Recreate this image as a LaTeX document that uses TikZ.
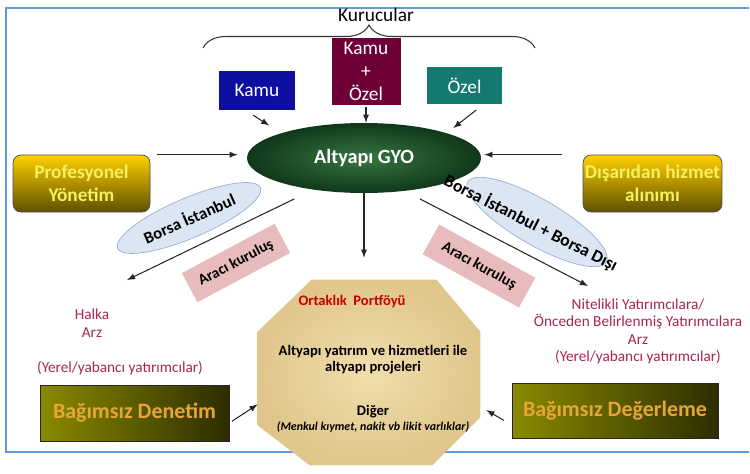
\documentclass[tikz,border=0pt]{standalone}
\usepackage{fontspec}
\setmainfont{Carlito}
\usetikzlibrary{shapes.geometric,decorations.pathreplacing}

\definecolor{frameBlue}{RGB}{95,155,215}
\definecolor{kamuBlue}{RGB}{14,14,160}
\definecolor{mixedMaroon}{RGB}{110,0,55}
\definecolor{ozelTeal}{RGB}{20,122,112}
\definecolor{gyoLight}{RGB}{55,118,65}
\definecolor{gyoDark}{RGB}{16,56,26}
\definecolor{goldTop}{RGB}{255,208,0}
\definecolor{goldBottom}{RGB}{95,80,0}
\definecolor{mgmtText}{RGB}{248,240,95}
\definecolor{bourseBlue}{RGB}{220,230,243}
\definecolor{bourseEdge}{RGB}{150,175,210}
\definecolor{agentPink}{RGB}{232,188,188}
\definecolor{offerRed}{RGB}{170,35,85}
\definecolor{portTan}{RGB}{240,222,172}
\definecolor{portTanDark}{RGB}{224,198,140}
\definecolor{portRed}{RGB}{200,0,0}
\definecolor{oliveLeft}{RGB}{138,138,0}
\definecolor{oliveRight}{RGB}{45,45,0}
\definecolor{auditText}{RGB}{230,165,55}
\colorlet{arrowColor}{black!85}

\tikzstyle{frameLine}=[draw=frameBlue,line width=1.1pt]
\tikzstyle{braceLine}=[decorate,decoration={brace,amplitude=0.46cm},draw=black!80,line width=0.6pt]
\tikzstyle{founderTitle}=[font=\fontsize{11}{13}\selectfont,inner sep=0pt]
\tikzstyle{founderBox}=[text=white,font=\fontsize{11}{13}\selectfont,inner sep=0pt,align=center]
\tikzstyle{gyoOval}=[ellipse,shading=radial,inner color=gyoLight,outer color=gyoDark,text=white,font=\bfseries\fontsize{11.5}{14}\selectfont,inner sep=0pt]
\tikzstyle{mgmtBox}=[rounded corners=0.16cm,draw=black!70,top color=goldTop,bottom color=goldBottom,text=mgmtText,font=\bfseries\fontsize{11}{13}\selectfont,inner sep=0pt,align=center]
\tikzstyle{bourseOval}=[ellipse,draw=bourseEdge,fill=bourseBlue,line width=0.4pt,inner sep=0pt]
\tikzstyle{bourseLabel}=[font=\bfseries\fontsize{9.5}{11}\selectfont,inner sep=0pt]
\tikzstyle{agentBox}=[fill=agentPink,font=\bfseries\fontsize{8.7}{10}\selectfont,inner sep=0pt]
\tikzstyle{offerText}=[text=offerRed,font=\fontsize{8.7}{10}\selectfont,align=center,inner sep=0pt]
\tikzstyle{portfolioShape}=[shading=radial,inner color=portTan,outer color=portTanDark]
\tikzstyle{portTitle}=[text=portRed,font=\bfseries\fontsize{8.3}{10}\selectfont,inner sep=0pt]
\tikzstyle{portText}=[font=\bfseries\fontsize{8.3}{9.2}\selectfont,align=center,inner sep=0pt]
\tikzstyle{portNote}=[font=\bfseries\itshape\fontsize{6.8}{8}\selectfont,inner sep=0pt]
\tikzstyle{auditBox}=[draw=black!85,left color=oliveLeft,right color=oliveRight,text=auditText,font=\bfseries\fontsize{12.5}{15}\selectfont,inner sep=0pt]
\tikzstyle{flowArrow}=[->,>=latex,draw=arrowColor,line width=0.6pt]

\begin{document}
\begin{tikzpicture}[x=0.02cm,y=-0.02cm]
\newcommand{\Pix}{0.02cm}
\useasboundingbox (0,0) rectangle (750,473);
\draw[frameLine] (749,8) -- (6,8) -- (6,452) -- (749,452);

% kurucular
\node[founderTitle] (kurucular) at (376,15) {Kurucular};
\draw[braceLine] (203,48) -- (535,48);
\node[founderBox,fill=kamuBlue,minimum width=76*\Pix,minimum height=39*\Pix] (kamu) at (257,90.5) {Kamu};
\node[founderBox,fill=mixedMaroon,minimum width=69*\Pix,minimum height=67*\Pix] (kamuOzel) at (366,71.5) {Kamu\\+\\Özel};
\node[founderBox,fill=ozelTeal,minimum width=75*\Pix,minimum height=37*\Pix] (ozel) at (464.5,85.5) {Özel};

\node[gyoOval,minimum width=234*\Pix,minimum height=70*\Pix] (gyo) at (364,158) {Altyapı GYO};

\node[mgmtBox,minimum width=137*\Pix,minimum height=57*\Pix] (profYonetim) at (81.5,183.5) {Profesyonel\\Yönetim};
\node[mgmtBox,minimum width=139*\Pix,minimum height=57*\Pix] (disHizmet) at (652.5,183.5) {Dışarıdan hizmet\\alınımı};

% borsa / araci
\node[bourseOval,rotate=23,minimum width=155*\Pix,minimum height=40*\Pix] (borsaIst) at (189,218) {};
\node[bourseLabel,rotate=24] (borsaIstText) at (borsaIst) {Borsa İstanbul};
\node[agentBox,rotate=28,minimum width=105*\Pix,minimum height=33*\Pix] (araciSol) at (236,263) {Aracı kuruluş};
\node[bourseOval,rotate=-30,minimum width=160*\Pix,minimum height=46*\Pix] (borsaDis) at (537,222) {};
\node[bourseLabel,rotate=-27,font=\bfseries\fontsize{10}{12}\selectfont] (borsaDisText) at (531,223) {Borsa İstanbul + Borsa Dışı};
\node[agentBox,rotate=-29,minimum width=110*\Pix,minimum height=34*\Pix] (araciSag) at (479,266) {Aracı kuruluş};

% portfoy
\node[minimum width=222*\Pix,minimum height=185*\Pix,inner sep=0pt] (portfoy) at (369,372.5) {};
\shade[portfolioShape] ([xshift=54*\Pix]portfoy.north west) -- ([xshift=-44*\Pix]portfoy.north east)
  -- ([yshift=-52*\Pix]portfoy.north east) -- ([yshift=48*\Pix]portfoy.south east)
  -- ([xshift=-48*\Pix]portfoy.south east) -- ([xshift=52*\Pix]portfoy.south west)
  -- ([yshift=40*\Pix]portfoy.south west) -- ([yshift=-52*\Pix]portfoy.north west) -- cycle;
\node[portTitle] (portBaslik) at (352,302) {Ortaklık\ \ Portföyü};
\node[portText] (portAltyapi) at (373,360) {Altyapı yatırım ve hizmetleri ile\\altyapı projeleri};
\node[portText] (portDiger) at (373,412) {Diğer};
\node[portNote] (portNot) at (373,427) {(Menkul kıymet, nakit vb likit varlıklar)};

% arz
\node[offerText] (halkaArz) at (92,323) {Halka\\Arz};
\node[offerText] (yerelSol) at (120,368) {(Yerel/yabancı yatırımcılar)};
\node[offerText] (nitelikli) at (638,331.5) {Nitelikli Yatırımcılara/\\Önceden Belirlenmiş Yatırımcılara\\Arz\\(Yerel/yabancı yatırımcılar)};

\node[auditBox,minimum width=189*\Pix,minimum height=56*\Pix] (denetim) at (134.5,413) {Bağımsız Denetim};
\node[auditBox,minimum width=206*\Pix,minimum height=55*\Pix] (degerleme) at (615,410.5) {Bağımsız Değerleme};

% oklar
\coordinate (halkaUc) at (127,280);
\coordinate (nitelikliUc) at (588,286);
\draw[flowArrow,shorten <=9*\Pix,shorten >=14*\Pix] (kamu.-120) -- (gyo.north west);
\draw[flowArrow,shorten <=2*\Pix] (kamuOzel.south) -- (kamuOzel.south |- gyo.north);
\draw[flowArrow,shorten <=9*\Pix,shorten >=8*\Pix] (ozel.-45) -- (gyo.north east);
\draw[flowArrow,shorten <=7*\Pix,shorten >=9*\Pix] (profYonetim.north east) -- (profYonetim.north east -| gyo.west);
\draw[flowArrow,shorten <=21*\Pix,shorten >=3*\Pix] (disHizmet.north west) -- (disHizmet.north west -| gyo.east);
\draw[flowArrow,shorten >=22*\Pix] (gyo.south) -- (gyo.south |- portfoy.north);
\draw[flowArrow,shorten <=21*\Pix] (gyo.212) -- (halkaUc);
\draw[flowArrow,shorten <=17*\Pix] (gyo.-39) -- (nitelikliUc);
\draw[flowArrow,shorten <=3*\Pix] (denetim.-6) -- (portfoy.196);
\draw[flowArrow,shorten <=9*\Pix,shorten >=7*\Pix] (degerleme.188) -- (portfoy.-17);
\end{tikzpicture}
\end{document}
